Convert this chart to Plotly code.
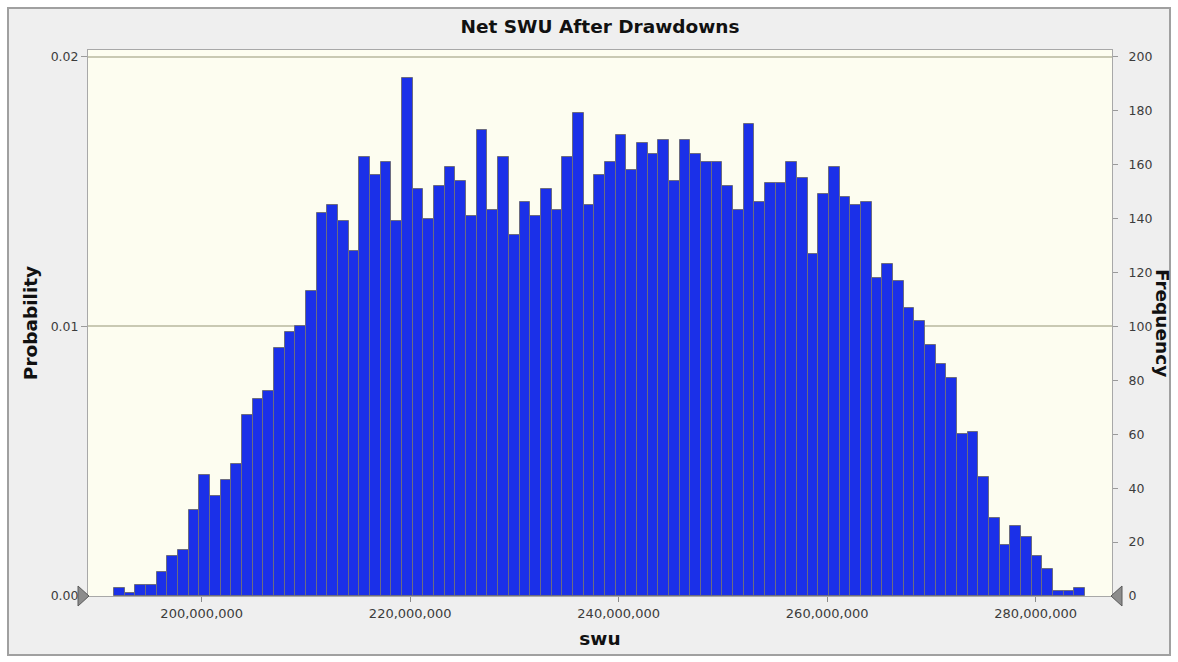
import plotly.graph_objects as go

# Simulation summary: net SWU after drawdowns, 10,000 trials
TRIALS = 10000
BIN_START = 191_590_000
BIN_WIDTH = 1_023_500

counts = [
    3, 1, 4, 4, 9, 15, 17, 32, 45, 37, 43, 49, 67, 73, 76, 92, 98,
    100, 113, 142, 145, 139, 128, 163, 156, 161, 139, 192, 151, 140, 152, 159, 154, 141,
    173, 143, 163, 134, 146, 141, 151, 143, 163, 179, 145, 156, 161, 171, 158, 168, 164, 169, 154,
    169, 164, 161, 161, 152, 143, 175, 146, 153, 153, 161, 155, 127, 149, 159, 148, 145,
    146, 118, 123, 117, 107, 102, 93, 86, 81, 60, 61, 44, 29, 19, 26, 22, 15, 10, 2, 2, 3,
]

x_tickvals = [200_000_000, 220_000_000, 240_000_000, 260_000_000, 280_000_000]
x_ticktext = ["200,000,000", "220,000,000", "240,000,000", "260,000,000", "280,000,000"]
prob_tickvals = [0.0, 0.01, 0.02]
prob_ticktext = ["0.00", "0.01", "0.02"]
freq_tickvals = [0, 20, 40, 60, 80, 100, 120, 140, 160, 180, 200]

X_MIN, X_MAX = 189_090_000, 287_320_000
FREQ_TOP = 202.5

centers = [BIN_START + BIN_WIDTH * (i + 0.5) for i in range(len(counts))]
probs = [c / TRIALS for c in counts]

FONT = "DejaVu Sans"
TICK_COLOR = "#3c3c3c"
TITLE_COLOR = "#111111"
TITLE_SIZE = 18.5

# plot-area geometry in pixels, used to place the frame and grabbers
PL, PR, PT, PB = 88, 1112, 50, 596
PW, PH = PR - PL, PB - PT


def px(x):
    return (x - PL) / PW


def py(y):
    return (PB - y) / PH


fig = go.Figure()

fig.add_trace(go.Bar(
    x=centers, y=probs, width=BIN_WIDTH,
    marker=dict(color="#1b30e8", line=dict(color="#6c6c80", width=1)),
    yaxis="y", showlegend=False, hoverinfo="x+y",
))

# frequency scale on the right
fig.add_trace(go.Scatter(
    x=centers, y=counts, yaxis="y2", mode="markers",
    marker=dict(opacity=0), showlegend=False, hoverinfo="skip",
))


def tri(points):
    return "M " + " L ".join(f"{px(a)},{py(b)}" for a, b in points) + " Z"


grabber = dict(type="path", xref="paper", yref="paper", layer="above",
               fillcolor="#8c8c8c", line=dict(color="#5a5a5a", width=1))

fig.update_layout(
    width=1178, height=662,
    margin=dict(l=PL, r=1178 - PR, t=PT, b=662 - PB),
    paper_bgcolor="white",
    plot_bgcolor="#fdfdf0",
    bargap=0,
    font=dict(family=FONT, size=12, color=TICK_COLOR),
    title=dict(text="<b>Net SWU After Drawdowns</b>", x=0.5, xref="paper",
               y=1 - 27 / 662, yanchor="middle",
               font=dict(family=FONT, size=TITLE_SIZE, color=TITLE_COLOR)),
    xaxis=dict(
        range=[X_MIN, X_MAX], tickvals=x_tickvals, ticktext=x_ticktext,
        ticks="outside", ticklen=5, tickcolor="#8a8a8a",
        showline=True, linecolor="#a8a8a8", mirror=True, showgrid=False, zeroline=False,
        title=dict(text="<b>swu</b>", standoff=12,
                   font=dict(family=FONT, size=TITLE_SIZE, color=TITLE_COLOR)),
        tickfont=dict(family=FONT, size=13, color=TICK_COLOR),
    ),
    yaxis=dict(
        range=[0, FREQ_TOP / TRIALS], tickvals=prob_tickvals, ticktext=prob_ticktext,
        ticks="outside", ticklen=6, tickcolor="#9a9a9a",
        showline=True, linecolor="#a8a8a8", mirror=True,
        showgrid=True, gridcolor="#c9c9b3", gridwidth=2, zeroline=False,
        title=dict(text="<b>Probability</b>", standoff=8,
                   font=dict(family=FONT, size=TITLE_SIZE, color=TITLE_COLOR)),
        tickfont=dict(family=FONT, size=12.5, color=TICK_COLOR),
    ),
    yaxis2=dict(
        range=[0, FREQ_TOP], tickvals=freq_tickvals, overlaying="y", side="right",
        ticks="outside", ticklen=5, tickcolor="#9a9a9a", ticklabelstandoff=8,
        showline=False, showgrid=False, zeroline=False,
        tickfont=dict(family=FONT, size=12.5, color=TICK_COLOR),
    ),
    annotations=[dict(
        text="<b>Frequency</b>", textangle=90, showarrow=False,
        xref="paper", yref="paper", x=px(1163), y=0.5,
        xanchor="center", yanchor="middle",
        font=dict(family=FONT, size=TITLE_SIZE, color=TITLE_COLOR),
    )],
    shapes=[
        # outer panel
        dict(type="rect", xref="paper", yref="paper", layer="below",
             x0=px(8), x1=px(1170), y0=py(655), y1=py(8),
             fillcolor="#efefef", line=dict(color="#a0a0a0", width=2)),
        # plot-area fill
        dict(type="rect", xref="paper", yref="paper", layer="below",
             x0=0, x1=1, y0=0, y1=1,
             fillcolor="#fdfdf0", line=dict(width=0)),
        dict(grabber, path=tri([(89, 596), (78, 586), (78, 606)])),
        dict(grabber, path=tri([(1111, 596), (1122, 586), (1122, 606)])),
    ],
)

fig.write_html("out.html")
